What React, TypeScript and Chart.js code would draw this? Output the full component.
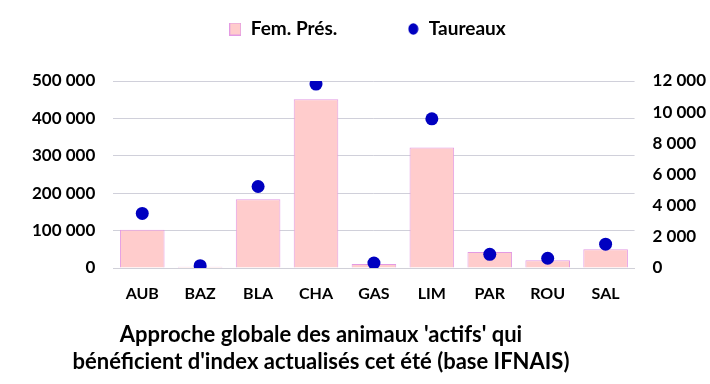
import React, { useEffect, useRef } from "react";
import { Chart, registerables } from "chart.js";

Chart.register(...registerables);

const categories = ["AUB", "BAZ", "BLA", "CHA", "GAS", "LIM", "PAR", "ROU", "SAL"];
const femPres = [102000, 3500, 184000, 451000, 11000, 322000, 43000, 21000, 50000];
const taureaux = [3500, 150, 5230, 11800, 320, 9570, 880, 625, 1530];
const titleLines = [
  "Approche globale des animaux 'actifs' qui",
  "bénéficient d'index actualisés cet été (base IFNAIS)",
];

const fmt = (v: number) =>
  String(Math.round(v)).replace(/\B(?=(\d{3})+(?!\d))/g, " ");

function makeRectIcon() {
  const c = document.createElement("canvas");
  c.width = 12;
  c.height = 13;
  const x = c.getContext("2d")!;
  x.fillStyle = "#FFCCCC";
  x.fillRect(0, 0, 12, 13);
  x.strokeStyle = "#E39AE3";
  x.lineWidth = 1;
  x.strokeRect(0.5, 0.5, 11, 12);
  return c;
}
function makeDotIcon() {
  const c = document.createElement("canvas");
  c.width = 11;
  c.height = 12;
  const x = c.getContext("2d")!;
  x.fillStyle = "#0000C0";
  x.beginPath();
  x.ellipse(5.5, 6, 5, 5.8, 0, 0, Math.PI * 2);
  x.fill();
  return c;
}

export default function App() {
  const ref = useRef<HTMLCanvasElement | null>(null);
  useEffect(() => {
    document.body.style.margin = "0";
    const font = "Lato";
    const rectIcon = makeRectIcon();
    const dotIcon = makeDotIcon();
    const placer = {
      id: "placer",
      afterLayout(chart: any) {
        const lg = chart.legend;
        if (lg) {
          const dy = -32.5;
          lg.top += dy;
          lg.bottom += dy;
          const dx = 367.5 - (lg.left + lg.right) / 2;
          lg.left += dx;
          lg.right += dx;
        }
        const tb = chart.titleBlock;
        if (tb) {
          const w = tb.right - tb.left;
          tb.left = 321 - w / 2;
          tb.right = 321 + w / 2;
        }
      },
    };
    const chart = new Chart(ref.current as HTMLCanvasElement, {
      type: "bar",
      data: {
        labels: categories,
        datasets: [
          {
            type: "bar",
            label: "Fem. Prés.",
            data: femPres,
            backgroundColor: "#FFCCCC",
            borderColor: "#E39AE3",
            borderWidth: 1,
            yAxisID: "y",
            categoryPercentage: 1,
            barPercentage: 0.77,
            order: 2,
          } as any,
          {
            type: "line",
            label: "Taureaux",
            data: taureaux,
            showLine: false,
            pointRadius: 6.5,
            pointBackgroundColor: "#0000C0",
            pointBorderWidth: 0,
            backgroundColor: "#0000C0",
            borderColor: "#0000C0",
            yAxisID: "y1",
            pointStyle: "circle",
            order: 1,
          } as any,
        ],
      },
      plugins: [placer],
      options: {
        responsive: false,
        animation: false,
        layout: { padding: { left: 14, right: -14, top: -18, bottom: 9 } },
        plugins: {
          legend: {
            position: "top",
            labels: {
              usePointStyle: true,
              boxWidth: 12,
              boxHeight: 12,
              padding: 70,
              color: "#000",
              font: { family: font, size: 19, weight: "bold" },
              sort: (a: any, b: any) => a.datasetIndex - b.datasetIndex,
              generateLabels: (ch: any) => {
                const items = Chart.defaults.plugins.legend.labels.generateLabels(ch);
                items.forEach((it: any) => {
                  it.pointStyle = it.datasetIndex === 0 ? rectIcon : dotIcon;
                });
                return items;
              },
            },
          },
          title: {
            display: true,
            position: "bottom",
            text: titleLines,
            color: "#000",
            font: { family: font, size: 22, weight: "bold", lineHeight: 1.2 },
            padding: { top: 3, bottom: 0 },
          },
          tooltip: { enabled: false },
        },
        scales: {
          x: {
            grid: { display: false, drawTicks: false },
            border: { display: true, color: "#D0D0D8" },
            ticks: {
              color: "#000",
              padding: 16,
              font: { family: font, size: 16, weight: "bold" },
            },
          },
          y: {
            position: "left",
            min: 0,
            max: 500000,
            grid: { color: "#D0D0DA", drawTicks: false },
            border: { display: false },
            ticks: {
              stepSize: 100000,
              padding: 18,
              color: "#000",
              font: { family: font, size: 17, weight: "bold" },
              callback: (v: any) => fmt(Number(v)),
            },
          },
          y1: {
            position: "right",
            min: 0,
            max: 12000,
            grid: { display: false, drawTicks: false },
            border: { display: false },
            ticks: {
              stepSize: 2000,
              padding: 18,
              color: "#000",
              font: { family: font, size: 17, weight: "bold" },
              callback: (v: any) => fmt(Number(v)),
            },
          },
        },
      },
    });
    return () => chart.destroy();
  }, []);
  return (
    <div style={{ width: 710, height: 384 }}>
      <canvas ref={ref} width={710} height={384} style={{ display: "block" }} />
    </div>
  );
}
